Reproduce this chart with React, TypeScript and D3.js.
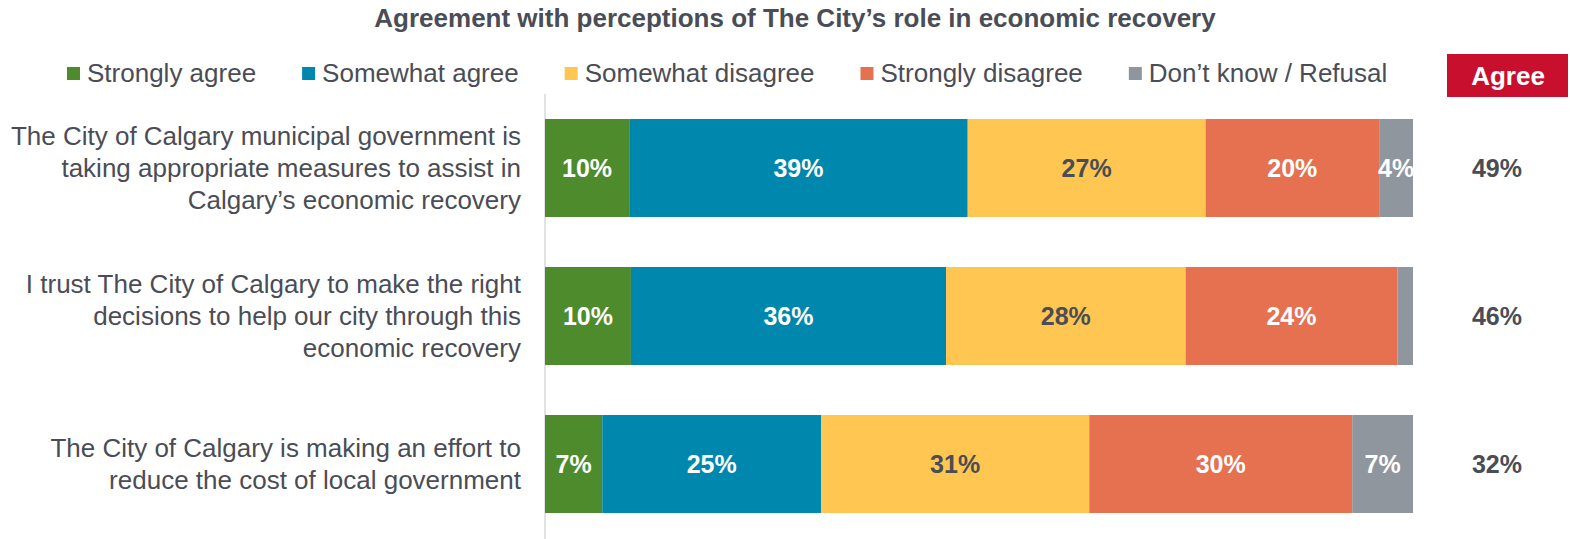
import React, { useEffect, useRef } from "react";
import { select, scaleLinear, scaleBand, stack } from "d3";

const title = "Agreement with perceptions of The City’s role in economic recovery";

const seriesKeys = ["strongAgree", "someAgree", "someDisagree", "strongDisagree", "dontKnow"];
const seriesNames = ["Strongly agree", "Somewhat agree", "Somewhat disagree", "Strongly disagree", "Don’t know / Refusal"];
const seriesColors = ["#4E8B2D", "#0087AD", "#FFC652", "#E57151", "#90969D"];
const labelColors = ["#ffffff", "#ffffff", "#4A4D55", "#ffffff", "#ffffff"];

const statements = [
  ["The City of Calgary municipal government is", "taking appropriate measures to assist in", "Calgary’s economic recovery"],
  ["I trust The City of Calgary to make the right", "decisions to help our city through this", "economic recovery"],
  ["The City of Calgary is making an effort to", "reduce the cost of local government"],
];

const strongAgree = [9.7, 9.9, 6.6];
const someAgree = [39.0, 36.3, 25.2];
const someDisagree = [27.4, 27.6, 30.9];
const strongDisagree = [20.0, 24.4, 30.3];
const dontKnow = [3.9, 1.8, 7.0];

const agreeTotals = ["49%", "46%", "32%"];

const FONT = "'Liberation Sans', Arial, sans-serif";
const DARK = "#4A4D55";

const App = () => {
  const svgRef = useRef<SVGSVGElement>(null);

  useEffect(() => {
    const svg = select(svgRef.current);
    svg.selectAll("*").remove();

    const data = statements.map((s, i) => ({
      id: i,
      strongAgree: strongAgree[i],
      someAgree: someAgree[i],
      someDisagree: someDisagree[i],
      strongDisagree: strongDisagree[i],
      dontKnow: dontKnow[i],
    }));

    const layers = stack<any>().keys(seriesKeys)(data);

    const xScale = scaleLinear().domain([0, 100]).range([545, 1413]);
    const yScale = scaleBand<number>()
      .domain(data.map((d) => d.id))
      .range([94, 538])
      .paddingInner(0.338)
      .paddingOuter(0.169);

    // title
    svg
      .append("text")
      .attr("x", 795)
      .attr("y", 27)
      .attr("text-anchor", "middle")
      .style("font", `bold 26px ${FONT}`)
      .attr("fill", DARK)
      .text(title);

    // legend, laid out by measured text width
    const legend = svg.append("g").attr("class", "legend");
    let lx = 67;
    seriesNames.forEach((name, i) => {
      legend
        .append("rect")
        .attr("x", lx)
        .attr("y", 67)
        .attr("width", 13)
        .attr("height", 13)
        .attr("fill", seriesColors[i]);
      const t = legend
        .append("text")
        .attr("x", lx + 20)
        .attr("y", 82)
        .style("font", `26px ${FONT}`)
        .attr("fill", DARK)
        .text(name);
      const w = (t.node() as SVGTextElement).getComputedTextLength();
      lx = lx + 20 + w + 46;
    });

    // Agree header
    svg
      .append("rect")
      .attr("x", 1447)
      .attr("y", 54)
      .attr("width", 121)
      .attr("height", 43)
      .attr("fill", "#C8102E");
    svg
      .append("text")
      .attr("x", 1508)
      .attr("y", 85)
      .attr("text-anchor", "middle")
      .style("font", `bold 26px ${FONT}`)
      .attr("fill", "white")
      .text("Agree");

    // axis line
    svg
      .append("line")
      .attr("x1", 545)
      .attr("x2", 545)
      .attr("y1", 94)
      .attr("y2", 539)
      .attr("stroke", "#D9D9D9")
      .attr("stroke-width", 1.5);

    svg
      .selectAll(".layer")
      .data(layers)
      .join("g")
      .attr("class", "layer")
      .attr("fill", (layer, i) => seriesColors[i])
      .selectAll("rect")
      .data((layer) => layer)
      .join("rect")
      .attr("x", (s: any) => xScale(s[0]))
      .attr("y", (s: any) => yScale(s.data.id)!)
      .attr("width", (s: any) => xScale(s[1]) - xScale(s[0]))
      .attr("height", yScale.bandwidth());

    // value labels inside segments
    layers.forEach((layer, k) => {
      svg
        .append("g")
        .selectAll("text")
        .data(layer.filter((s: any) => s[1] - s[0] >= 3))
        .join("text")
        .attr("x", (s: any) => xScale((s[0] + s[1]) / 2))
        .attr("y", (s: any) => yScale(s.data.id)! + yScale.bandwidth() / 2 + 9)
        .attr("text-anchor", "middle")
        .style("font", `bold 25px ${FONT}`)
        .attr("fill", labelColors[k])
        .text((s: any) => `${Math.round(s[1] - s[0])}%`);
    });

    // statement labels
    data.forEach((d, i) => {
      const lines = statements[i];
      const cy = yScale(d.id)! + yScale.bandwidth() / 2;
      const t = svg
        .append("text")
        .attr("text-anchor", "end")
        .style("font", `26px ${FONT}`)
        .attr("fill", DARK);
      lines.forEach((line, j) => {
        t.append("tspan")
          .attr("x", 521)
          .attr("y", cy + (j - (lines.length - 1) / 2) * 32 + 9)
          .text(line);
      });
    });

    // net agree column
    svg
      .append("g")
      .selectAll("text")
      .data(data)
      .join("text")
      .attr("x", 1497)
      .attr("y", (d) => yScale(d.id)! + yScale.bandwidth() / 2 + 9)
      .attr("text-anchor", "middle")
      .style("font", `bold 25px ${FONT}`)
      .attr("fill", DARK)
      .text((d, i) => agreeTotals[i]);
  }, []);

  return (
    <svg
      ref={svgRef}
      width={1570}
      height={539}
      style={{ position: "absolute", left: 0, top: 0, background: "white" }}
    />
  );
};

export default App;
